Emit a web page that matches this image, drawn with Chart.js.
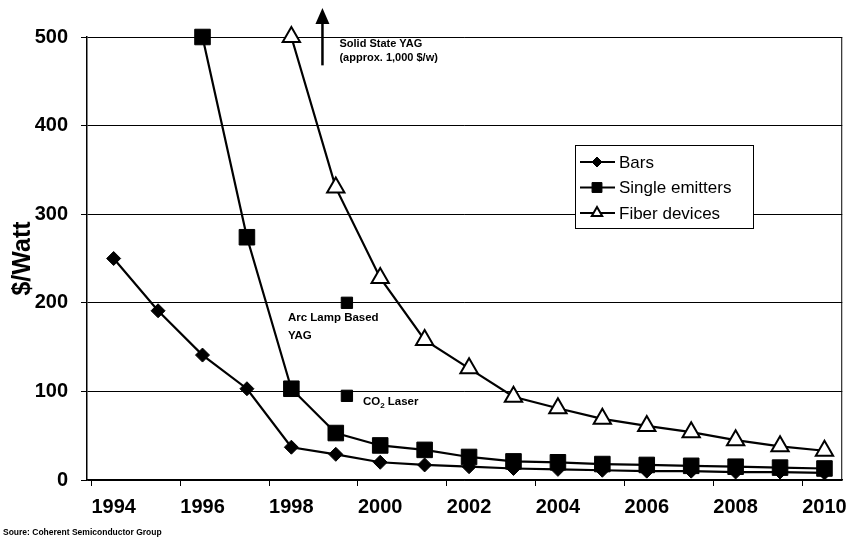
<!DOCTYPE html>
<html>
<head>
<meta charset="utf-8">
<script src="https://cdn.jsdelivr.net/npm/chart.js@4.4.1/dist/chart.umd.min.js"></script>
<style>
  html, body { margin: 0; padding: 0; background: #fff; }
  #wrap { width: 856px; height: 539px; }
</style>
</head>
<body>
<div id="wrap"><canvas id="costChart" width="856" height="539"></canvas></div>
<script>
// $/Watt by year
var years = [1994, 1995, 1996, 1997, 1998, 1999, 2000, 2001, 2002, 2003, 2004, 2005, 2006, 2007, 2008, 2009, 2010];
var bars = [250, 191, 141, 103, 37, 29, 20, 17, 15, 13, 12, 11, 10, 10, 9, 9, 8];
var singleEmitters = [null, null, 500, 274, 103, 53, 39, 34, 26, 21, 20, 18, 17, 16, 15, 14, 13];
var fiberDevices = [null, null, null, null, 500, 330, 228, 158, 126, 94, 81, 69, 61, 54, 45, 38, 33];

// single reference points (year, $/W)
var arcLampYag = [1999.25, 200];
var co2Laser = [1999.25, 95];
var solidStateYag = [1998.7, 1000]; // off the scale, shown as an arrow

var xTickLabels = ['1994', '1996', '1998', '2000', '2002', '2004', '2006', '2008', '2010'];
var yTicks = [0, 100, 200, 300, 400, 500];

var FONT = '"Liberation Sans", Arial, sans-serif';

function toPoints(values) {
    var pts = [];
    for (var i = 0; i < years.length; i++) {
        if (values[i] !== null) pts.push({x: years[i], y: values[i]});
    }
    return pts;
}

var legendRows = [
    {label: 'Bars', ds: 0, radius: 5},
    {label: 'Single emitters', ds: 1, radius: 7},
    {label: 'Fiber devices', ds: 2, radius: 6}
];

var annotations = {
    id: 'annotations',
    afterDraw: function(chart) {
        var ctx = chart.ctx;
        var a = chart.chartArea;
        var xs = chart.scales.x;
        var ys = chart.scales.y;
        ctx.save();
        ctx.strokeStyle = '#000';
        ctx.fillStyle = '#000';

        // right frame line
        ctx.lineWidth = 1;
        ctx.beginPath();
        ctx.moveTo(a.right - 0.5, a.top);
        ctx.lineTo(a.right - 0.5, a.bottom);
        ctx.stroke();

        // Solid State YAG arrow (value way above the axis)
        var ax = xs.getPixelForValue(solidStateYag[0]);
        var yBottom = ys.getPixelForValue(468);
        var yTop = a.top - 29;
        ctx.lineWidth = 2.5;
        ctx.beginPath();
        ctx.moveTo(ax, yBottom);
        ctx.lineTo(ax, yTop + 12);
        ctx.stroke();
        ctx.beginPath();
        ctx.moveTo(ax, yTop);
        ctx.lineTo(ax - 7, yTop + 16);
        ctx.lineTo(ax + 7, yTop + 16);
        ctx.closePath();
        ctx.fill();

        ctx.font = 'bold 11px ' + FONT;
        ctx.textBaseline = 'middle';
        ctx.textAlign = 'left';
        ctx.fillText('Solid State YAG', ax + 17, a.top + 7);
        ctx.fillText('(approx. 1,000 $/w)', ax + 17, a.top + 21);

        // labels next to the two single points
        var px = xs.getPixelForValue(arcLampYag[0]);
        var py = ys.getPixelForValue(arcLampYag[1]);
        ctx.font = 'bold 11.5px ' + FONT;
        ctx.fillText('Arc Lamp Based', px - 59, py + 15);
        ctx.fillText('YAG', px - 59, py + 33);

        var cx = xs.getPixelForValue(co2Laser[0]) + 16;
        var cy = ys.getPixelForValue(co2Laser[1]) + 6;
        ctx.font = 'bold 11.5px ' + FONT;
        ctx.fillText('CO', cx, cy);
        var w = ctx.measureText('CO').width;
        ctx.font = 'bold 8px ' + FONT;
        ctx.fillText('2', cx + w, cy + 4);
        var w2 = ctx.measureText('2').width;
        ctx.font = 'bold 11.5px ' + FONT;
        ctx.fillText(' Laser', cx + w + w2, cy);

        // legend box
        var lx = a.left + 488, ly = a.top + 108, lw = 178, lh = 83;
        ctx.fillStyle = '#fff';
        ctx.fillRect(lx, ly, lw, lh);
        ctx.lineWidth = 1;
        ctx.strokeStyle = '#000';
        ctx.strokeRect(lx + 0.5, ly + 0.5, lw, lh);
        ctx.font = '17px ' + FONT;
        legendRows.forEach(function(row, i) {
            var ds = chart.data.datasets[row.ds];
            var ry = ly + 17 + i * 25.5;
            ctx.strokeStyle = '#000';
            ctx.lineWidth = 2;
            ctx.beginPath();
            ctx.moveTo(lx + 5, ry);
            ctx.lineTo(lx + 40, ry);
            ctx.stroke();
            ctx.fillStyle = ds.pointBackgroundColor;
            ctx.strokeStyle = ds.pointBorderColor;
            ctx.lineWidth = ds.pointBorderWidth;
            Chart.helpers.drawPoint(ctx, {pointStyle: ds.pointStyle, radius: row.radius, rotation: 0, borderWidth: ds.pointBorderWidth}, lx + 22, ry);
            ctx.fillStyle = '#000';
            ctx.fillText(row.label, lx + 44, ry + 1);
        });

        // source note
        ctx.fillStyle = '#000';
        ctx.font = 'bold 8.5px ' + FONT;
        ctx.fillText('Soure: Coherent Semiconductor Group', 3, chart.height - 6);
        ctx.restore();
    }
};

var chart = new Chart(document.getElementById('costChart'), {
    type: 'line',
    data: {
        datasets: [
            {
                label: 'Bars',
                data: toPoints(bars),
                borderColor: '#000',
                borderWidth: 2.2,
                pointStyle: 'rectRot',
                pointRadius: 7,
                pointBackgroundColor: '#000',
                pointBorderColor: '#000',
                pointBorderWidth: 1,
                tension: 0,
                clip: false
            },
            {
                label: 'Single emitters',
                data: toPoints(singleEmitters),
                borderColor: '#000',
                borderWidth: 2.2,
                pointStyle: 'rect',
                pointRadius: 11,
                pointBackgroundColor: '#000',
                pointBorderColor: '#000',
                pointBorderWidth: 1,
                tension: 0,
                clip: false
            },
            {
                label: 'Fiber devices',
                data: toPoints(fiberDevices),
                borderColor: '#000',
                borderWidth: 2.2,
                pointStyle: 'triangle',
                pointRadius: 10,
                pointBackgroundColor: '#fff',
                pointBorderColor: '#000',
                pointBorderWidth: 2,
                tension: 0,
                clip: false
            },
            {
                label: 'Arc Lamp Based YAG',
                data: [{x: arcLampYag[0], y: arcLampYag[1]}],
                showLine: false,
                pointStyle: 'rect',
                pointRadius: 8,
                pointBackgroundColor: '#000',
                pointBorderColor: '#000',
                clip: false
            },
            {
                label: 'CO2 Laser',
                data: [{x: co2Laser[0], y: co2Laser[1]}],
                showLine: false,
                pointStyle: 'rect',
                pointRadius: 8,
                pointBackgroundColor: '#000',
                pointBorderColor: '#000',
                clip: false
            }
        ]
    },
    options: {
        responsive: false,
        animation: false,
        events: [],
        layout: {padding: {top: 37, right: 11, left: 0, bottom: 0}},
        plugins: {
            legend: {display: false},
            tooltip: {enabled: false}
        },
        scales: {
            x: {
                type: 'linear',
                min: 1993.4,
                max: 2010.4,
                afterBuildTicks: function(scale) {
                    var t = [];
                    for (var v = 1993.5; v <= 2010.01; v += 0.5) t.push({value: v});
                    scale.ticks = t;
                },
                afterFit: function(scale) { scale.height = 59; },
                ticks: {
                    autoSkip: false,
                    maxRotation: 0,
                    padding: 9,
                    color: '#000',
                    font: {family: FONT, size: 20, weight: 'bold'},
                    callback: function(value) {
                        return xTickLabels.indexOf(String(value)) >= 0 ? String(value) : '';
                    }
                },
                grid: {
                    drawOnChartArea: false,
                    tickLength: 6,
                    lineWidth: 1,
                    color: function(c) {
                        return c.tick && (c.tick.value - 1993.5) % 2 === 0 ? '#000' : 'rgba(0,0,0,0)';
                    }
                },
                border: {display: true, color: '#000', width: 1.5}
            },
            y: {
                min: 0,
                max: 500,
                afterBuildTicks: function(scale) {
                    scale.ticks = yTicks.map(function(v) { return {value: v}; });
                },
                afterFit: function(scale) { scale.width = 87; },
                ticks: {
                    padding: 13,
                    color: '#000',
                    font: {family: FONT, size: 20, weight: 'bold'}
                },
                grid: {color: '#000', lineWidth: 1, tickLength: 6},
                border: {display: true, color: '#000', width: 1.5},
                title: {
                    display: true,
                    text: '$/Watt',
                    color: '#000',
                    font: {family: FONT, size: 25, weight: 'bold'},
                    padding: {top: 8, bottom: 0}
                }
            }
        }
    },
    plugins: [annotations]
});
</script>
</body>
</html>
